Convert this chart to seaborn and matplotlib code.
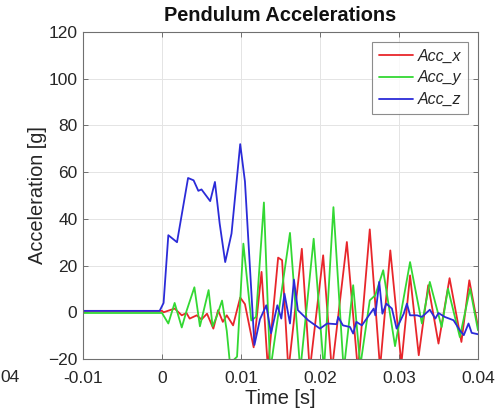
import numpy as np
import pandas as pd
import matplotlib
matplotlib.use("Agg")
import matplotlib.pyplot as plt
import seaborn as sns
from matplotlib.lines import Line2D

# ---- data ----
t_x = [-0.01, 0.0, 0.0002, 0.0016, 0.0025, 0.0031, 0.0035, 0.0044, 0.0050, 0.0057,
       0.0065, 0.0071, 0.0077, 0.0082, 0.0090, 0.0099, 0.0105, 0.0116, 0.0126, 0.0134,
       0.0147, 0.0152, 0.0160, 0.0177, 0.0187, 0.0204, 0.0215, 0.0234, 0.0248, 0.0263,
       0.0276, 0.0289, 0.0303, 0.0314, 0.0325, 0.0337, 0.0350, 0.0364, 0.0379, 0.0389,
       0.0400]
acc_x = [0.6, 0.6, 0.0, 1.6, -1.3, -0.3, -2.7, -1.3, -3.1, -0.6,
         -7.0, 0.9, -4.1, -1.3, -5.6, 6.3, 3.5, -15.0, 17.3, -24.0,
         23.4, 22.3, -25.0, 27.2, -25.0, 24.4, -25.0, 30.1, -25.0, 35.5,
         -24.0, 26.5, -22.0, 15.8, -18.4, 11.6, -13.4, 14.6, -12.7, 13.7,
         -6.3]

t_y = [-0.01, 0.0, 0.0008, 0.0016, 0.0025, 0.0031, 0.0041, 0.0048, 0.0059, 0.0064,
       0.0069, 0.0076, 0.0082, 0.0086, 0.0095, 0.0103, 0.0113, 0.0119, 0.0129, 0.0137,
       0.0162, 0.0175, 0.0192, 0.0205, 0.0217, 0.0230, 0.0242, 0.0251, 0.0263, 0.0270,
       0.0280, 0.0295, 0.0314, 0.0329, 0.0339, 0.0354, 0.0362, 0.0377, 0.0390, 0.0400]
acc_y = [-0.3, -0.3, -4.8, 4.0, -6.5, 0.5, 10.7, -6.0, 9.5, -6.0,
         -2.0, 5.0, -8.0, -22.0, -19.0, 29.4, -3.5, -2.0, 47.0, -25.0,
         34.0, -25.0, 31.5, -25.0, 45.0, -25.0, 11.6, -23.0, 5.1, 7.3,
         18.0, -14.5, 21.5, -4.8, 13.0, -6.3, 10.1, -10.6, 10.1, -7.7]

t_z = [-0.01, -0.0003, 0.0002, 0.0008, 0.0019, 0.0033, 0.0040, 0.0046, 0.0050, 0.0061,
       0.0067, 0.0073, 0.0080, 0.0088, 0.0099, 0.0105, 0.0117, 0.0124, 0.0132, 0.0138,
       0.0146, 0.0151, 0.0155, 0.0162, 0.0167, 0.0172, 0.0185, 0.0200, 0.0209, 0.0221,
       0.0223, 0.0229, 0.0238, 0.0242, 0.0246, 0.0253, 0.0268, 0.0270, 0.0275, 0.0279,
       0.0284, 0.0291, 0.0297, 0.0306, 0.0310, 0.0314, 0.0323, 0.0329, 0.0339, 0.0346,
       0.0350, 0.0358, 0.0369, 0.0377, 0.0382, 0.0388, 0.0392, 0.0400]
acc_z = [0.6, 0.6, 4.0, 33.0, 30.0, 57.5, 56.5, 52.0, 52.6, 47.6,
         55.8, 38.0, 21.5, 33.7, 72.0, 56.0, -14.0, -3.0, 3.0, -9.0,
         3.0, -2.7, 8.0, -4.8, 14.0, 0.9, -3.4, -7.0, -4.8, -5.1,
         -2.0, -5.6, -6.3, -9.1, -4.1, -5.6, 1.6, -1.3, 13.0, -0.6,
         3.7, 1.6, -7.0, -0.6, 3.7, -1.3, -1.3, -2.0, 1.1, -2.7,
         -0.3, -2.0, -3.4, -7.7, -9.8, -4.8, -8.8, -9.4]

labels = ["Acc_x", "Acc_y", "Acc_z"]
colors = ["#e8262b", "#33d833", "#2b2bd8"]
x_ticks = [-0.01, 0, 0.01, 0.02, 0.03, 0.04]
x_ticklabels = ["-0.01", "0", "0.01", "0.02", "0.03", "0.04"]
y_ticks = [-20, 0, 20, 40, 60, 80, 100, 120]

df = pd.concat([
    pd.DataFrame({"t": t_x, "a": acc_x, "s": labels[0]}),
    pd.DataFrame({"t": t_y, "a": acc_y, "s": labels[1]}),
    pd.DataFrame({"t": t_z, "a": acc_z, "s": labels[2]}),
], ignore_index=True)

sns.set_theme(style="white")
plt.rcParams["font.family"] = ["Liberation Sans", "DejaVu Sans"]
FS = 12.5     # tick labels
FL = 14.4     # axis labels / title
FLEG = 11.5   # legend

fig = plt.figure(figsize=(4.97, 4.16), dpi=100)
ax = fig.add_axes([83 / 497, 1 - 359 / 416, (478 - 83) / 497, (359 - 32) / 416])

sns.lineplot(data=df, x="t", y="a", hue="s", hue_order=labels,
             palette=dict(zip(labels, colors)), estimator=None, sort=False,
             units="s", linewidth=1.3, ax=ax, legend=False)

ax.set_xlim(-0.01, 0.04)
ax.set_ylim(-20, 120)
ax.set_xticks(x_ticks)
ax.set_xticklabels(x_ticklabels)
ax.set_yticks(y_ticks)
ax.grid(True, color="#e4e4e4", linewidth=0.7)
ax.set_axisbelow(True)
for sp in ax.spines.values():
    sp.set_visible(True)
    sp.set_color("#707070")
    sp.set_linewidth(0.8)
ax.tick_params(direction="in", length=3.5, width=0.7, color="#707070",
               labelsize=FS, labelcolor="#262626", top=True, right=True,
               left=True, bottom=True)
ax.tick_params(axis="x", pad=8.5)
ax.tick_params(axis="y", pad=4)
ax.set_xlabel("Time [s]", fontsize=FL, color="#262626", labelpad=2)
ax.set_ylabel("Acceleration [g]", fontsize=FL, color="#262626", labelpad=1)
ax.set_title("Pendulum Accelerations", fontsize=FL, fontweight="bold",
             color="#111111", pad=8)

handles = [Line2D([], [], color=c, linewidth=1.3) for c in colors]
leg = ax.legend(handles, labels, loc="upper right",
                prop={"style": "italic", "size": FLEG}, frameon=True,
                fancybox=False, edgecolor="#707070", handlelength=2.1,
                handletextpad=0.3, borderpad=0.45, labelspacing=0.42,
                borderaxespad=0.6)
leg.get_frame().set_linewidth(0.8)

fig.text(0.0, 1 - 377 / 416, "04", fontsize=FS, color="#262626",
         ha="left", va="center")

fig.savefig("out.png", dpi=100)
